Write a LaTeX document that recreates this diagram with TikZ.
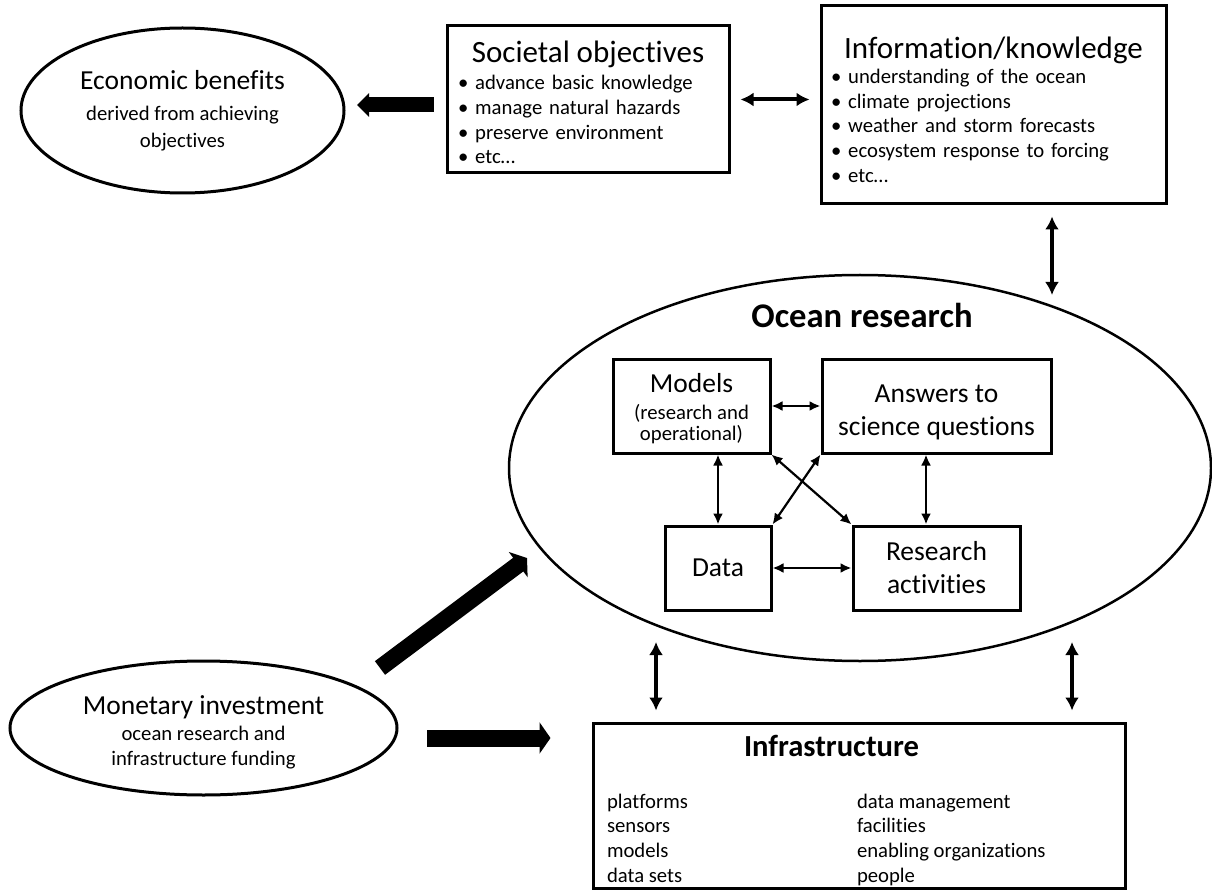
\documentclass[tikz,border=0pt]{standalone}
\usepackage{fontspec}
\setmainfont{Carlito}[Ligatures=NoCommon]
\usetikzlibrary{arrows.meta, positioning, shapes.geometric}

\newcommand{\hdsize}{\fontsize{31pt}{36pt}\selectfont}
\newcommand{\ovsize}{\fontsize{27.5pt}{33pt}\selectfont}
\newcommand{\smsize}{\fontsize{20.7pt}{24.7pt}\selectfont}

\begin{document}
\begin{tikzpicture}[
    x=1pt, y=-1pt,
    box/.style={rectangle, draw, line width=3pt, inner sep=0pt},
    oval/.style={ellipse, draw, line width=3pt, inner sep=0pt, align=center},
    twoway/.style={{Latex[length=11pt,width=10pt]}-{Latex[length=11pt,width=10pt]}, line width=2.2pt},
    link/.style={{Latex[length=13pt,width=14pt]}-{Latex[length=13pt,width=14pt]}, line width=4pt},
    fatarrow/.style={-{Triangle[length=11pt,width=31pt]}, line width=17pt}
  ]
    \fill[white] (0,0) rectangle (1212,890);
    \useasboundingbox (0,0) rectangle (1212,890);

    % top row
    \node[oval, minimum width=323pt, minimum height=165pt, font=\smsize] (econ) at (182.5,110.5)
          {{\ovsize Economic benefits}\\[7pt] derived from achieving\\[2pt] objectives};
    \coordinate (econ-e) at (345,105);
    \node[box, minimum width=282pt, minimum height=147pt, text width=260pt, align=left, font=\smsize] (soc) at (588,99.5)
          {{\hdsize\centering\rule{0pt}{27pt}Societal objectives\par}\vspace{3pt}
           \textbullet{} advance basic knowledge\\
           \textbullet{} manage natural hazards\\
           \textbullet{} preserve environment\\
           \textbullet{} etc…};
    \node[box, minimum width=345pt, minimum height=198pt, text width=325pt, align=left, font=\smsize] (info) at (993.5,105)
          {{\hdsize\centering\rule{0pt}{31pt}Information/knowledge\par}
           \textbullet{} understanding of the ocean\\
           \textbullet{} climate projections\\
           \textbullet{} weather and storm forecasts\\
           \textbullet{} ecosystem response to forcing\\
           \textbullet{} etc…};

    % ocean research
    \node[oval, line width=2.5pt, minimum width=702pt, minimum height=386pt] (ocean) at (860,468) {};
    \node[font=\fontsize{34.6pt}{40pt}\selectfont\bfseries] (oceantitle) at (862,315) {Ocean research};
    \node[box, minimum width=157pt, minimum height=94pt, align=center, font=\smsize] (models) at (691.5,406)
          {\rule{0pt}{24pt}{\ovsize Models}\\[2pt] (research and\\[-4pt] operational)};
    \node[box, minimum width=229pt, minimum height=94pt, align=center, font=\ovsize, right=49pt of models] (answers)
          {\rule{0pt}{30pt}Answers to\\ science questions};
    \node[box, minimum width=106pt, minimum height=84pt, font=\ovsize] (data) at (718,568) {Data};
    \node[box, minimum width=167pt, minimum height=84pt, align=center, font=\ovsize, right=79pt of data] (research)
          {Research\\ activities};

    % points on the ellipse borders
    \coordinate (ocean-top) at (1052,305);
    \coordinate (ocean-bl)  at (656,626.4);
    \coordinate (ocean-br)  at (1072,623.1);
    \coordinate (ocean-sw)  at (539.5,548.7);

    % bottom row
    \node[oval, minimum width=387pt, minimum height=134pt, font=\smsize] (mon) at (203.5,728)
          {\rule{0pt}{27pt}{\ovsize Monetary investment}\\[2pt] ocean research and\\ infrastructure funding};
    \coordinate (mon-ne) at (356.5,685.5);
    \coordinate (mon-e)  at (397,738);
    \node[box, minimum width=532pt, minimum height=165pt, font=\smsize] (infra) at (859,805.5)
          {\begin{tabular}{@{}p{250pt}@{}p{254pt}@{}}
             \multicolumn{2}{@{}l@{}}{\hspace*{137pt}\fontsize{30.6pt}{36pt}\selectfont\bfseries Infrastructure}\\[27pt]
             platforms & data management\\
             sensors   & facilities\\
             models    & enabling organizations\\
             data sets & people\\[-14pt]
           \end{tabular}};

    % connectors
    \draw[-{Triangle[length=12pt,width=23pt]}, line width=15pt] ([yshift=-5.5pt]soc.west) -- (econ-e) [shorten <=12pt, shorten >=12pt];
    \draw[link] (soc.east) -- (info.west |- soc.east) [shorten <=10pt, shorten >=10pt];
    \draw[link] ([xshift=58.5pt]info.south) -- (ocean-top) [shorten <=11pt, shorten >=10pt];
    \draw[link] (ocean-bl) -- ([xshift=-203pt]infra.north) [shorten <=15.6pt, shorten >=11pt];
    \draw[link] (ocean-br) -- ([xshift=213pt]infra.north) [shorten <=18.9pt, shorten >=11pt];
    \draw[fatarrow] (mon-ne) -- (ocean-sw) [shorten <=29.3pt, shorten >=15.6pt];
    \draw[fatarrow] (mon-e) -- ([yshift=67.5pt]infra.west) [shorten <=30pt, shorten >=41pt];

    \draw[twoway] (models) -- (answers);
    \draw[twoway] (models.south -| data.north) -- (data.north);
    \draw[twoway] ([xshift=-10.5pt]answers.south) -- ([xshift=-10.5pt]research.north);
    \draw[twoway] (data) -- (research);
    \draw[twoway] (models.south east) -- (research.north west);
    \draw[twoway] (answers.south west) -- (data.north east);
  \end{tikzpicture}
\end{document}
